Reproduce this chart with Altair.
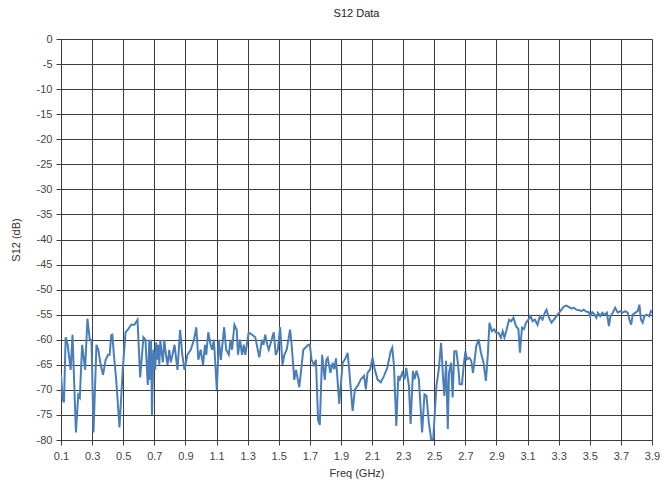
import altair as alt
import pandas as pd

freq = [
    0.100, 0.111, 0.119, 0.130, 0.143, 0.162, 0.174, 0.196, 0.211, 0.221,
    0.236, 0.255, 0.270, 0.285, 0.296, 0.309, 0.328, 0.340, 0.355, 0.370,
    0.387, 0.402, 0.413, 0.423, 0.430, 0.440, 0.455, 0.476, 0.497, 0.515,
    0.530, 0.551, 0.572, 0.592, 0.609, 0.630, 0.643, 0.658, 0.668, 0.672,
    0.679, 0.685, 0.694, 0.706, 0.712, 0.719, 0.726, 0.732, 0.739, 0.745,
    0.755, 0.764, 0.775, 0.785, 0.796, 0.806, 0.817, 0.830, 0.849, 0.866,
    0.880, 0.894, 0.913, 0.934, 0.955, 0.970, 0.983, 0.998, 1.013, 1.026,
    1.034, 1.047, 1.062, 1.072, 1.083, 1.102, 1.115, 1.128, 1.149, 1.162,
    1.179, 1.190, 1.200, 1.215, 1.230, 1.238, 1.251, 1.264, 1.275, 1.285,
    1.307, 1.328, 1.349, 1.375, 1.392, 1.402, 1.413, 1.426, 1.436, 1.468,
    1.481, 1.494, 1.509, 1.524, 1.536, 1.551, 1.573, 1.583, 1.600, 1.611,
    1.632, 1.658, 1.690, 1.700, 1.711, 1.726, 1.739, 1.753, 1.764, 1.779,
    1.796, 1.806, 1.815, 1.832, 1.847, 1.857, 1.868, 1.889, 1.911, 1.926,
    1.943, 1.953, 1.975, 1.990, 2.007, 2.028, 2.049, 2.060, 2.071, 2.088,
    2.103, 2.117, 2.135, 2.156, 2.177, 2.198, 2.220, 2.230, 2.241, 2.256,
    2.269, 2.279, 2.294, 2.309, 2.320, 2.337, 2.348, 2.363, 2.373, 2.386,
    2.401, 2.422, 2.437, 2.450, 2.465, 2.480, 2.493, 2.501, 2.514, 2.529,
    2.544, 2.557, 2.565, 2.576, 2.587, 2.595, 2.608, 2.618, 2.629, 2.642,
    2.653, 2.663, 2.678, 2.689, 2.700, 2.710, 2.725, 2.738, 2.749, 2.759,
    2.770, 2.785, 2.800, 2.817, 2.832, 2.844, 2.855, 2.870, 2.885, 2.898,
    2.913, 2.928, 2.940, 2.951, 2.966, 2.981, 2.994, 3.009, 3.026, 3.041,
    3.051, 3.064, 3.077, 3.090, 3.105, 3.120, 3.132, 3.147, 3.164, 3.179,
    3.196, 3.211, 3.222, 3.237, 3.254, 3.269, 3.286, 3.303, 3.318, 3.333,
    3.350, 3.367, 3.382, 3.397, 3.414, 3.431, 3.446, 3.461, 3.478, 3.493,
    3.503, 3.516, 3.531, 3.542, 3.552, 3.567, 3.580, 3.595, 3.610, 3.623,
    3.633, 3.648, 3.663, 3.680, 3.695, 3.712, 3.727, 3.744, 3.755, 3.766,
    3.776, 3.793, 3.808, 3.819, 3.829, 3.840, 3.851, 3.866, 3.883, 3.893,
    3.900,
]

s12 = [
    -67.0, -72.0, -72.5, -59.5, -61.0, -66.0, -59.0, -78.5, -71.0, -71.5,
    -61.0, -66.0, -55.8, -60.0, -60.0, -78.5, -61.0, -62.0, -65.0, -67.0,
    -64.0, -63.0, -63.0, -59.1, -59.0, -63.0, -68.0, -77.5, -66.0, -58.5,
    -58.0, -57.0, -57.0, -56.0, -67.5, -59.5, -60.0, -69.0, -60.0, -68.0,
    -60.0, -75.0, -62.0, -66.0, -60.5, -64.0, -61.0, -65.0, -60.0, -62.0,
    -64.5, -60.0, -63.0, -65.0, -62.0, -64.5, -63.0, -61.0, -66.0, -58.0,
    -63.0, -66.0, -63.0, -62.0, -60.0, -57.5, -64.0, -62.0, -65.0, -61.0,
    -63.0, -58.5, -61.0, -62.0, -60.0, -70.0, -60.0, -64.0, -57.5, -62.0,
    -63.0, -60.0, -62.0, -57.0, -58.0, -63.0, -60.0, -63.0, -61.0, -63.0,
    -58.5, -59.0, -59.5, -63.5, -60.0, -61.0, -59.0, -61.0, -62.0, -58.5,
    -63.0, -62.0, -57.5, -65.0, -63.0, -62.0, -58.0, -61.0, -68.0, -66.0,
    -69.5, -62.0, -61.0, -61.0, -64.0, -65.0, -64.0, -76.0, -77.0, -63.0,
    -68.0, -64.0, -63.6, -66.6, -64.6, -65.9, -63.7, -72.8, -64.6, -63.9,
    -62.6, -65.9, -74.2, -69.9, -69.2, -67.9, -67.2, -69.9, -66.6, -65.9,
    -63.6, -65.9, -67.9, -68.5, -67.2, -65.6, -62.3, -61.6, -65.2, -77.2,
    -67.2, -67.9, -66.6, -67.9, -65.6, -69.2, -76.8, -66.2, -67.9, -66.2,
    -67.9, -78.5, -70.9, -71.2, -76.5, -79.8, -80.0, -75.8, -69.2, -65.9,
    -60.6, -67.9, -71.2, -64.2, -77.8, -66.6, -64.6, -71.5, -62.3, -62.3,
    -64.9, -68.9, -68.9, -65.2, -62.3, -63.9, -63.6, -64.2, -66.6, -64.2,
    -61.3, -59.9, -62.6, -64.6, -68.2, -63.2, -56.6, -58.3, -57.9, -58.6,
    -58.6, -59.6, -58.3, -59.6, -57.9, -56.0, -56.3, -55.6, -57.3, -57.9,
    -62.6, -57.6, -57.9, -56.6, -56.0, -55.3, -56.3, -56.0, -57.0, -55.3,
    -56.0, -54.6, -54.0, -55.6, -56.6, -56.0, -55.3, -54.6, -54.0, -53.4,
    -53.2, -53.5, -53.8, -53.6, -54.0, -54.1, -54.3, -54.0, -54.4, -54.5,
    -55.3, -54.5, -55.0, -55.6, -54.6, -55.3, -54.6, -55.0, -54.6, -57.3,
    -55.3, -54.6, -53.6, -54.6, -54.3, -54.6, -54.3, -54.6, -56.0, -57.0,
    -55.0, -54.6, -54.3, -53.0, -56.0, -56.6, -55.3, -55.0, -55.3, -54.3,
    -54.6,
]

x_ticks = [0.1, 0.3, 0.5, 0.7, 0.9, 1.1, 1.3, 1.5, 1.7, 1.9, 2.1, 2.3, 2.5,
           2.7, 2.9, 3.1, 3.3, 3.5, 3.7, 3.9]
y_ticks = [0, -5, -10, -15, -20, -25, -30, -35, -40, -45, -50, -55, -60,
           -65, -70, -75, -80]

df = pd.DataFrame({"freq": freq, "s12": s12})

FONT = "Liberation Sans"
GRID = "#3c3c3c"

chart = (
    alt.Chart(df)
    .mark_line(color="#4a7ebb", strokeWidth=2, clip=True)
    .encode(
        x=alt.X(
            "freq:Q",
            scale=alt.Scale(domain=[0.1, 3.9], nice=False, zero=False),
            axis=alt.Axis(
                values=x_ticks,
                format=".1f",
                title="Freq (GHz)",
                grid=True,
                gridColor=GRID,
                gridWidth=1,
                tickColor=GRID,
                tickSize=5,
                domainColor=GRID,
                labelFont=FONT,
                labelFontSize=11,
                labelColor="#444",
                labelPadding=5,
                labelFlush=False,
                labelOverlap=False,
                titleFont=FONT,
                titleFontSize=11,
                titleFontWeight="normal",
                titleColor="#333",
                titlePadding=6,
            ),
        ),
        y=alt.Y(
            "s12:Q",
            scale=alt.Scale(domain=[-80, 0], nice=False),
            axis=alt.Axis(
                values=y_ticks,
                labelExpr="datum.value == 0 ? '0' : '-' + abs(datum.value)",
                title="S12 (dB)",
                grid=True,
                gridColor=GRID,
                gridWidth=1,
                tickColor=GRID,
                tickSize=5,
                domainColor=GRID,
                labelFont=FONT,
                labelFontSize=11,
                labelColor="#444",
                labelPadding=4,
                labelFlush=False,
                labelOverlap=False,
                titleFont=FONT,
                titleFontSize=11,
                titleFontWeight="normal",
                titleColor="#333",
                titlePadding=15,
            ),
        ),
    )
    .properties(
        width=591,
        height=401,
        title=alt.TitleParams(
            "S12 Data", font=FONT, fontSize=11, fontWeight="normal",
            color="#222", offset=14,
        ),
        autosize=alt.AutoSizeParams(type="none"),
        padding={"left": 53, "top": 31, "right": 8, "bottom": 42},
    )
    .configure_view(stroke=GRID, strokeWidth=1)
    .configure(background="white")
)

chart.save("out.html", embed_options={"renderer": "svg", "actions": False})
